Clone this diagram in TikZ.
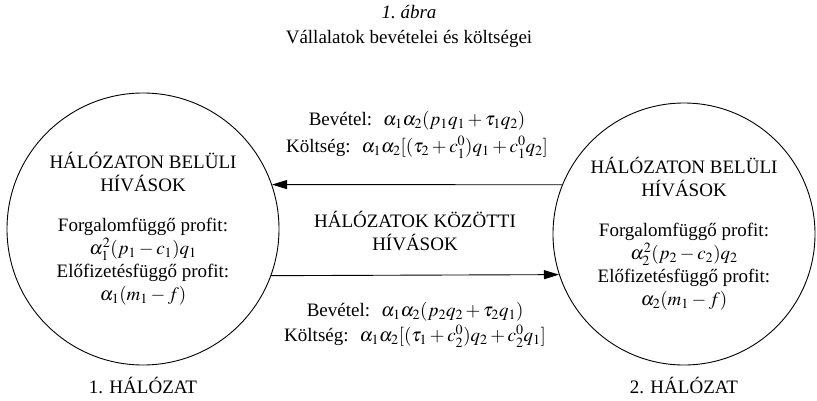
\documentclass[tikz,border=0pt]{standalone}
\usepackage{mathptmx}
\usepackage[no-math]{fontspec}
\setmainfont{Liberation Serif}
\usetikzlibrary{
    positioning,
    arrows.meta
}

\begin{document}
\begin{tikzpicture}[x=1pt, y=-1pt,
    font=\fontsize{19}{23}\selectfont,
    net/.style={draw, circle, inner sep=0pt, align=center, line width=0.9pt},
    flow/.style={-{Triangle[length=15pt, width=9pt]}, line width=0.9pt},
    txt/.style={align=center, inner sep=0pt}]
    \useasboundingbox (0,0) rectangle (817,400);

    % Title
    \node[txt] (num) at (409,12) {\itshape 1.~ábra};
    \node[txt, below=11pt of num] (title) {Vállalatok bevételei és költségei};

    % Networks
    \node[net, minimum size=272pt] (net1) at (143,229)
        {HÁLÓZATON BELÜLI\\HÍVÁSOK\\[17pt]
         Forgalomfüggő profit:\\$\alpha_1^2(p_1-c_1)q_1$\\
         Előfizetésfüggő profit:\\$\alpha_1(m_1-f)$};
    \node[net, minimum size=262pt] (net2) at (684,234)
        {HÁLÓZATON BELÜLI\\HÍVÁSOK\\[17pt]
         Forgalomfüggő profit:\\$\alpha_2^2(p_2-c_2)q_2$\\
         Előfizetésfüggő profit:\\$\alpha_2(m_1-f)$};

    \node[txt, below=12pt of net1] (name1) {1. HÁLÓZAT};
    \node[txt, below=12pt of net1.south -| net2] (name2) {2. HÁLÓZAT};

    % Calls between the networks
    \draw[flow] (net2.158) -- (net1.19)
        node[midway, above=26pt, txt] (rev1)
        {Bevétel:~ $\alpha_1\alpha_2(p_1q_1+\tau_1q_2)$\\[4pt]
         Költség:~ $\alpha_1\alpha_2[(\tau_2+c_1^0)q_1+c_1^0q_2]$};
    \draw[flow] (net1.-20) -- (net2.198.6)
        node[midway, below=27pt, txt] (rev2)
        {Bevétel:~ $\alpha_1\alpha_2(p_2q_2+\tau_2q_1)$\\[2pt]
         Költség:~ $\alpha_1\alpha_2[(\tau_1+c_2^0)q_2+c_2^0q_1]$};

    \node[txt] (between) at (415,231) {HÁLÓZATOK KÖZÖTTI\\HÍVÁSOK};
\end{tikzpicture}
\end{document}
